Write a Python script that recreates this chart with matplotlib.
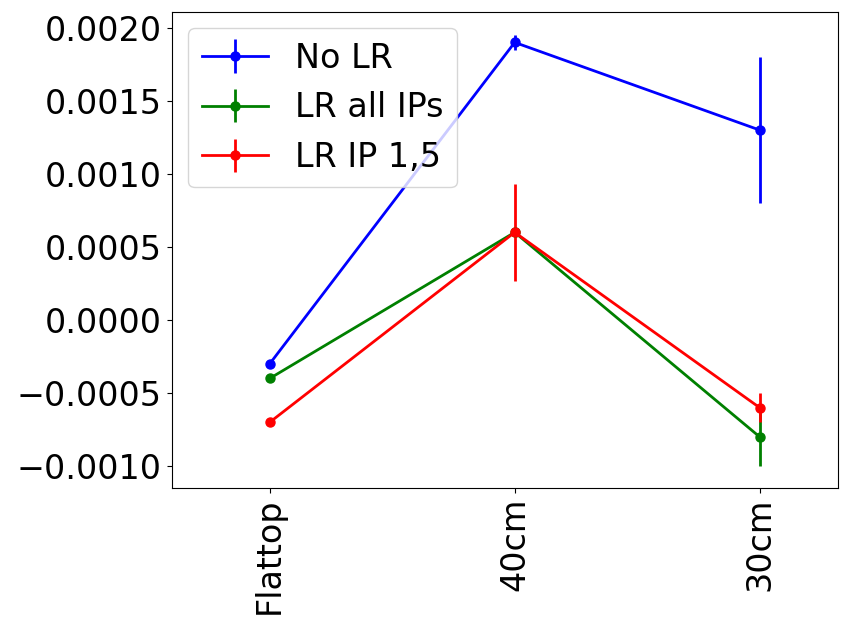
import matplotlib.pyplot as plt

# optics configurations
labels = ['Flattop', '40cm', '30cm']
x = [0, 1, 2]

no_lr = [-0.0003, 0.0019, 0.0013]
no_lr_err = [0.00001, 0.00005, 0.0005]
lr_all = [-0.0004, 0.0006, -0.0008]
lr_all_err = [0.00001, 0.00001, 0.0002]
lr_ip15 = [-0.0007, 0.0006, -0.0006]
lr_ip15_err = [0.00001, 0.00033, 0.0001]

fig = plt.figure(figsize=(8.5, 6.17), dpi=100)
ax = fig.add_axes([0.202, 0.209, 0.784, 0.772])

ax.errorbar(x, no_lr, yerr=no_lr_err, color='blue', marker='o', lw=2, elinewidth=2, markersize=6.5, label='No LR')
ax.errorbar(x, lr_all, yerr=lr_all_err, color='green', marker='o', lw=2, elinewidth=2, markersize=6.5, label='LR all IPs')
ax.errorbar(x, lr_ip15, yerr=lr_ip15_err, color='red', marker='o', lw=2, elinewidth=2, markersize=6.5, label='LR IP 1,5')

ax.set_xticks(x)
ax.set_xticklabels(labels, rotation=90)
ax.set_xlim(-0.4, 2.32)
ax.set_ylim(-0.00115, 0.00211)
ax.tick_params(labelsize=24)
ax.legend(fontsize=24, loc='upper left')

fig.savefig('out.png')
